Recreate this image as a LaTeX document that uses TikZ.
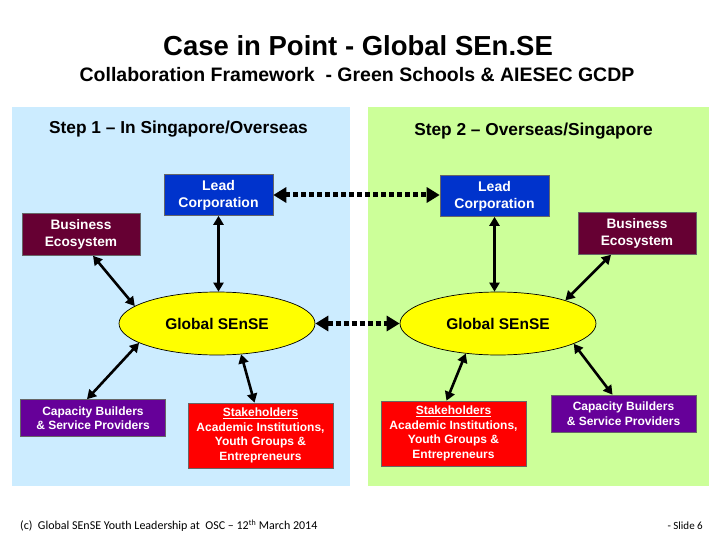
\documentclass[tikz,border=0pt]{standalone}
\usepackage{fontspec}
\setmainfont{Liberation Sans}
\newfontfamily\calib{Carlito}
\usetikzlibrary{arrows.meta,shapes.geometric}
\definecolor{panelblue}{RGB}{204,236,255}
\definecolor{panelgreen}{RGB}{204,255,153}
\definecolor{leadblue}{RGB}{0,51,204}
\definecolor{maroon}{RGB}{102,0,51}
\definecolor{purp}{RGB}{102,0,153}
\definecolor{stakered}{RGB}{255,0,0}
\definecolor{elly}{RGB}{255,255,0}
\begin{document}
\begin{tikzpicture}[x=1pt,y=-1pt,
  box/.style={draw=black!60, line width=0.6pt, text=white, align=center, inner sep=0pt, font=\bfseries},
  leadbox/.style={box, fill=leadblue, minimum width=109pt, minimum height=41pt, font=\bfseries\fontsize{14}{17}\selectfont},
  ecobox/.style={box, fill=maroon, minimum width=118pt, minimum height=42pt, font=\bfseries\fontsize{13.7}{17}\selectfont},
  capbox/.style={box, fill=purp, minimum width=145pt, minimum height=37pt, font=\bfseries\fontsize{12}{14.5}\selectfont},
  stakebox/.style={box, fill=stakered, minimum width=145pt, minimum height=65pt, font=\bfseries\fontsize{12}{14.7}\selectfont},
  sense/.style={ellipse, draw=black, line width=0.7pt, fill=elly, minimum width=196pt, minimum height=63pt, inner sep=0pt, font=\bfseries\fontsize{15.5}{18}\selectfont},
  heading/.style={font=\bfseries\fontsize{17.3}{21}\selectfont},
  dbl/.style={line width=2.6pt, {Triangle[length=9pt,width=10pt]}-{Triangle[length=9pt,width=10pt]}},
  dotarr/.style={line width=5pt, dash pattern=on 5pt off 3pt, {Triangle[length=13pt,width=15pt]}-{Triangle[length=13pt,width=15pt]}}
]
\useasboundingbox (0,0) rectangle (720,540);
\fill[white] (0,0) rectangle (720,540);
% panels
\fill[panelblue] (12,107) rectangle (350,486);
\fill[panelgreen] (368,107) rectangle (709,486);
% titles
\node (title) at (358,46) {\bfseries\fontsize{27.5}{32}\selectfont Case in Point - Global SEn.SE};
\node (subtitle) at (357,75) {\bfseries\fontsize{19.5}{24}\selectfont Collaboration Framework\ \ - Green Schools \& AIESEC GCDP};
\node[heading] (step1) at (178.5,129) {Step 1 – In Singapore/Overseas};
\node[heading] (step2) at (533.5,131.5) {Step 2 – Overseas/Singapore};
% left nodes
\node[leadbox] (lead1) at (218.5,195) {Lead\\Corporation};
\node[ecobox] (be1) at (81,234.5) {Business\\Ecosystem};
\node[sense] (el1) at (217,323.5) {Global SEnSE};
\node[capbox] (cap1) at (93,418) {Capacity Builders\\\& Service Providers};
\node[stakebox] (sh1) at (260.5,435.5) {\underline{Stakeholders}\\Academic Institutions,\\Youth Groups \&\\Entrepreneurs};
% right nodes
\node[leadbox] (lead2) at (494.5,196) {Lead\\Corporation};
\node[ecobox] (be2) at (637,233.5) {Business\\Ecosystem};
\node[sense] (el2) at (498,323.5) {Global SEnSE};
\node[stakebox] (sh2) at (453.5,433.5) {\underline{Stakeholders}\\Academic Institutions,\\Youth Groups \&\\Entrepreneurs};
\node[capbox] (cap2) at (623.5,413.5) {Capacity Builders\\\& Service Providers};
% left connectors
\draw[dbl] (lead1.south) -- (lead1.south |- el1.north);
\draw[dbl] ([xshift=12pt]be1.south) -- (el1.168);
\draw[dbl] (el1.194) -- ([xshift=-6pt]cap1.north);
\draw[dbl] (el1.-52) -- ([xshift=-6pt]sh1.north);
% right connectors
\draw[dbl] (lead2.south) -- (lead2.south |- el2.north);
\draw[dbl] ([xshift=-26pt]be2.south) -- (el2.19);
\draw[dbl] (el2.-137) -- ([xshift=-7pt]sh2.north);
\draw[dbl] (el2.-15) -- ([xshift=-11pt]cap2.north);
% dotted connectors
\draw[dotarr] (lead1.east) -- (lead1.east -| lead2.west);
\draw[dotarr] (el1.east) -- (el2.west);
% footer
\node[anchor=west, inner sep=0pt] (foot) at (20,526) {\calib\fontsize{12}{14}\selectfont (c)\ \ Global SEnSE Youth Leadership at\ \ OSC – 12\textsuperscript{th} March 2014};
\node[anchor=east, inner sep=0pt] (slide) at (703,526) {\calib\fontsize{11}{13}\selectfont - Slide 6};
\end{tikzpicture}
\end{document}
